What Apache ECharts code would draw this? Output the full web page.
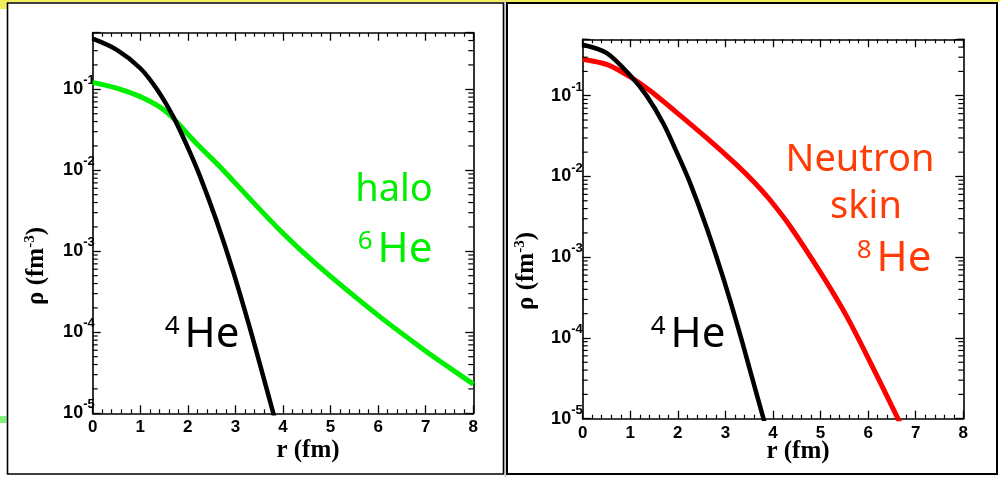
<!DOCTYPE html>
<html><head><meta charset="utf-8">
<script src="https://cdn.jsdelivr.net/npm/echarts@6/dist/echarts.min.js"></script>
<style>html,body{margin:0;padding:0;background:#fff}#c{width:1000px;height:477px}</style>
</head><body><div id="c"></div>
<script>
// ---- data (r in fm, rho in fm^-3) ----
const he4LeftR   = [0, 0.5, 1.0, 1.35, 1.7, 2.0, 2.25, 2.6, 2.95, 3.3, 3.55, 3.8, 3.9];
const he4LeftRho = [0.422, 0.309, 0.182, 0.1, 0.0451, 0.0191, 0.0086, 0.0024, 0.000569, 0.000115, 3.39e-5, 9.8e-6, 5.9e-6];
const he6R   = [0, 0.5, 1.0, 1.4, 1.7, 2.0, 2.25, 2.7, 3.3, 3.9, 4.36, 5.0, 6.04, 6.88, 7.3, 8.0];
const he6Rho = [0.122, 0.1035, 0.0813, 0.061, 0.0437, 0.0279, 0.0195, 0.0107, 0.00447, 0.00191, 0.00105, 0.00049, 0.000155, 6.6e-5, 4.4e-5, 2.29e-5];
const he4RightR   = [0, 0.5, 1.0, 1.35, 1.7, 2.0, 2.25, 2.6, 2.95, 3.3, 3.55, 3.8, 3.9];
const he4RightRho = [0.4285, 0.339, 0.178, 0.0989, 0.0447, 0.0186, 0.0085, 0.00237, 0.000562, 0.000115, 3.39e-5, 1.0e-5, 6.0e-6];
const he8R   = [0, 0.53, 0.99, 1.41, 1.94, 2.63, 3.22, 3.62, 3.93, 4.36, 5.05, 5.55, 6.04, 6.6, 6.7];
const he8Rho = [0.283, 0.2415, 0.1722, 0.1159, 0.0646, 0.0292, 0.0142, 0.00832, 0.00519, 0.00242, 0.000579, 0.000185, 5.06e-5, 1.076e-5, 8.1e-6];
// axis ticks
const xTicks = [0, 1, 2, 3, 4, 5, 6, 7, 8];
const yTickExps = [-5, -4, -3, -2, -1];
const yMinorMult = [2, 3, 4, 5, 6, 7, 8, 9];
const yMin = 1e-5, yMax = 0.5;

const chart = echarts.init(document.getElementById('c'), null, {renderer: 'canvas'});
const pairs = (xs, ys) => xs.map((x, i) => [x, ys[i]]);
const LF = 'Liberation Sans, Arial, sans-serif';
const SF = 'Liberation Serif, Times New Roman, serif';
const AF = 'Noto Sans, sans-serif';

const minorVals = [];
yTickExps.forEach(e => yMinorMult.forEach(m => { const v = m * Math.pow(10, e); if (v <= yMax * 1.0001) minorVals.push(v); }));

function yLabel(v) {
  const e = Math.log10(v), k = Math.round(e);
  if (Math.abs(e - k) > 1e-6 || yTickExps.indexOf(k) < 0) return '';
  return '{b|10}{s|' + k + '}';
}
const yRich = {
  b: {fontFamily: LF, fontWeight: 'bold', fontSize: 18, lineHeight: 30, color: '#000'},
  s: {fontFamily: LF, fontWeight: 'bold', fontSize: 13, lineHeight: 10, verticalAlign: 'top', color: '#000'}
};

function xAxisDef(gi, pos, showLabel, margin) {
  return {
    type: 'value', gridIndex: gi, position: pos, min: 0, max: 8, interval: 1,
    axisLine: {show: true, onZero: false, lineStyle: {color: '#000', width: 1.6}},
    axisTick: {show: true, inside: true, length: 8, lineStyle: {color: '#000', width: 1.3}},
    minorTick: {show: true, splitNumber: 5, length: 4, lineStyle: {color: '#000', width: 1.2}},
    splitLine: {show: false},
    axisLabel: {show: showLabel, margin: margin, fontFamily: LF, fontWeight: 'bold', fontSize: 17, color: '#000',
      formatter: v => (xTicks.indexOf(v) >= 0 ? String(v) : '')}
  };
}
function yAxisDef(gi, pos, showLabel, margin) {
  return {
    type: 'log', logBase: 10, gridIndex: gi, position: pos, min: yMin, max: yMax,
    axisLine: {show: true, onZero: false, lineStyle: {color: '#000', width: 1.6}},
    axisTick: {show: true, inside: true, length: 8, lineStyle: {color: '#000', width: 1.3}},
    splitLine: {show: false},
    axisLabel: {show: showLabel, margin: margin, formatter: yLabel, rich: yRich}
  };
}
function minorTickRender(params, api) {
  const v = api.value(1);
  const pl = api.coord([0, v]), pr = api.coord([8, v]);
  return {type: 'group', children: [
    {type: 'line', shape: {x1: pl[0], y1: pl[1], x2: pl[0] + 5, y2: pl[1]}, style: {stroke: '#000', lineWidth: 1.2}},
    {type: 'line', shape: {x1: pr[0] - 5, y1: pr[1], x2: pr[0], y2: pr[1]}, style: {stroke: '#000', lineWidth: 1.2}}
  ]};
}
function lineSeries(xi, yi, data, color, width, z) {
  return {type: 'line', xAxisIndex: xi, yAxisIndex: yi, data: data, showSymbol: false, symbol: 'none',
    smooth: 0.3, clip: true, z: z, lineStyle: {color: color, width: width}, silent: true};
}
function heText(x, y, sup, color) {
  return {type: 'text', x: x, y: y, z: 10, style: {
    text: '{s|' + sup + '}{m|He}', align: 'center', verticalAlign: 'middle', fill: color,
    rich: {
      s: {fontFamily: AF, fontSize: 26, lineHeight: 26, verticalAlign: 'top', fill: color, color: color, padding: [0, 5, 0, 0]},
      m: {fontFamily: AF, fontSize: 42, lineHeight: 42, fill: color, color: color}
    }}};
}
function wordText(x, y, txt, color) {
  return {type: 'text', x: x, y: y, z: 10, style: {text: txt, fontFamily: AF, fontSize: 38, fill: color,
    align: 'center', verticalAlign: 'middle'}};
}
function yTitle(x, y) {
  return {type: 'text', x: x, y: y, rotation: Math.PI / 2, z: 10, style: {
    text: '{m|ρ (fm}{s|-3}{m|)}', align: 'center', verticalAlign: 'middle', fill: '#000',
    rich: {
      m: {fontFamily: SF, fontWeight: 'bold', fontSize: 25, lineHeight: 28, fill: '#000', color: '#000'},
      s: {fontFamily: SF, fontWeight: 'bold', fontSize: 15, lineHeight: 14, verticalAlign: 'top', fill: '#000', color: '#000'}
    }}};
}
function xTitle(x, y) {
  return {type: 'text', x: x, y: y, z: 10, style: {text: 'r (fm)', fontFamily: SF, fontWeight: 'bold',
    fontSize: 25, fill: '#000', align: 'center', verticalAlign: 'middle'}};
}

const GREEN = '#00ee00', RED = '#ff0000', TXT_RED = '#ff3c05';

chart.setOption({
  animation: false,
  backgroundColor: '#fff',
  grid: [
    {left: 92.7, top: 32.7, width: 380.6, height: 380.6, show: false},
    {left: 582.7, top: 39.3, width: 380.6, height: 379.4, show: false}
  ],
  xAxis: [xAxisDef(0, 'bottom', true, 6), xAxisDef(0, 'top', false, 6),
          xAxisDef(1, 'bottom', true, 6), xAxisDef(1, 'top', false, 6)],
  yAxis: [yAxisDef(0, 'left', true, -2), yAxisDef(0, 'right', false, 0),
          yAxisDef(1, 'left', true, 0), yAxisDef(1, 'right', false, 0)],
  series: [
    lineSeries(0, 0, pairs(he6R, he6Rho), GREEN, 5, 3),
    lineSeries(0, 0, pairs(he4LeftR, he4LeftRho), '#000', 4.5, 4),
    lineSeries(2, 2, pairs(he8R, he8Rho), RED, 5, 3),
    lineSeries(2, 2, pairs(he4RightR, he4RightRho), '#000', 4.5, 4),
    {type: 'custom', xAxisIndex: 0, yAxisIndex: 0, data: minorVals.map(v => [0, v]), renderItem: minorTickRender, silent: true, clip: false, z: 6},
    {type: 'custom', xAxisIndex: 2, yAxisIndex: 2, data: minorVals.map(v => [0, v]), renderItem: minorTickRender, silent: true, clip: false, z: 6}
  ],
  graphic: [
    {type: 'rect', z: 0, shape: {x: 0, y: 0, width: 1000, height: 2}, style: {fill: '#f2ee5a'}},
    {type: 'rect', z: 0, shape: {x: 0, y: 0, width: 7, height: 9}, style: {fill: '#f2ee5a'}},
    {type: 'rect', z: 0, shape: {x: 504.5, y: 0, width: 2, height: 477}, style: {fill: '#d0d0d0'}},
    {type: 'rect', z: 1, shape: {x: 7.5, y: 3, width: 496, height: 471}, style: {fill: null, stroke: '#000', lineWidth: 1.6}},
    {type: 'rect', z: 1, shape: {x: 507, y: 3, width: 490, height: 471}, style: {fill: null, stroke: '#000', lineWidth: 2}},
    {type: 'rect', z: 0, shape: {x: 0, y: 416, width: 6.5, height: 7}, style: {fill: '#7ef07e'}},
    xTitle(308, 451), xTitle(798, 452),
    yTitle(37, 266), yTitle(527, 271),
    wordText(394, 190, 'halo', GREEN),
    heText(395, 250, '6', GREEN),
    heText(202, 335, '4', '#000'),
    heText(688, 335, '4', '#000'),
    wordText(860, 160, 'Neutron', TXT_RED),
    wordText(866, 207, 'skin', TXT_RED),
    heText(894, 259, '8', TXT_RED)
  ]
});
</script>
</body></html>
